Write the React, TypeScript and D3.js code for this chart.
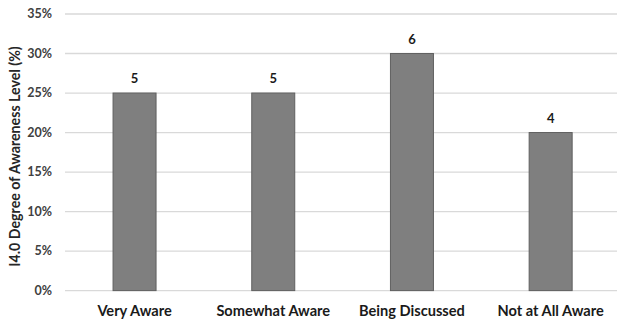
import React from "react";
import * as d3 from "d3";

const categories = ["Very Aware", "Somewhat Aware", "Being Discussed", "Not at All Aware"];
const percentValues = [25, 25, 30, 20];
const countLabels = ["5", "5", "6", "4"];
const yTicks = [0, 5, 10, 15, 20, 25, 30, 35];
const yTitle = "I4.0 Degree of Awareness Level (%)";

const W = 617;
const H = 323;
const FONT = "Lato, 'Open Sans', sans-serif";

export default function App() {
  const x = d3.scaleBand<string>().domain(categories).range([65.2, 620]).paddingInner(0.69).paddingOuter(0.345);
  const y = d3.scaleLinear().domain([0, 35]).range([290.6, 14]);
  const bw = x.bandwidth();
  return (
    <svg width={W} height={H} style={{ position: "absolute", left: 0, top: 0, background: "#fff" }}>
      {yTicks.map((t) => (
        <g key={t}>
          <line x1={65} x2={617} y1={y(t)} y2={y(t)} stroke="#d9d9d9" strokeWidth={1.3} />
          <text x={52} y={y(t)} dy="0.35em" textAnchor="end" fontFamily={FONT} fontWeight={700} fontSize={12.5} fill="#404040">
            {t + "%"}
          </text>
        </g>
      ))}
      {categories.map((c, i) => (
        <g key={c}>
          <rect x={x(c)!} y={y(percentValues[i])} width={bw} height={y(0) - y(percentValues[i])} fill="#7f7f7f" stroke="#606060" strokeWidth={1} />
          <text x={x(c)! + bw / 2} y={y(percentValues[i]) - 10} textAnchor="middle" fontFamily={FONT} fontWeight={700} fontSize={13} fill="#1a1a1a">
            {countLabels[i]}
          </text>
          <text x={x(c)! + bw / 2} y={316} textAnchor="middle" fontFamily={FONT} fontWeight={700} fontSize={14.6} fill="#1a1a1a">
            {c}
          </text>
        </g>
      ))}
      <text transform={`translate(20,156.5) rotate(-90)`} textAnchor="middle" fontFamily={FONT} fontWeight={700} fontSize={14.2} fill="#262626">
        {yTitle}
      </text>
    </svg>
  );
}
